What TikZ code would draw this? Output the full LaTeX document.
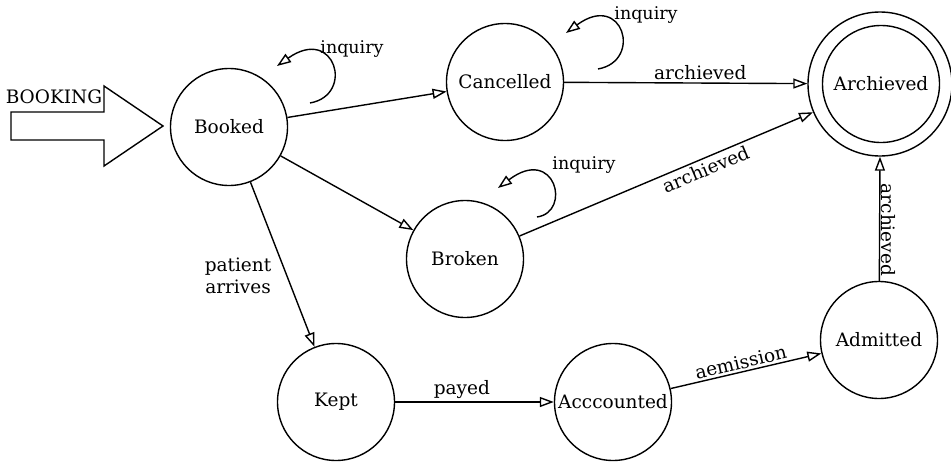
\documentclass[tikz,border=0pt]{standalone}
\usepackage{fontspec}
\setmainfont{DejaVu Serif}
\usetikzlibrary{arrows.meta,calc}
\begin{document}
\begin{tikzpicture}[x=1pt,y=-1pt,
  state/.style={draw, circle, minimum size=117pt, inner sep=0pt, line width=1.4pt, font=\fontsize{18.5}{22}\selectfont},
  outerring/.style={draw, circle, minimum size=144pt, inner sep=0pt, line width=1.4pt},
  trans/.style={line width=1.4pt, -{Triangle[open,length=14pt,width=10pt]}},
  lbl/.style={font=\fontsize{18.5}{22}\selectfont, inner sep=1pt},
  inq/.style={font=\fontsize{17.5}{21}\selectfont, inner sep=1pt},
  ]
\useasboundingbox (0,0) rectangle (951,466);
% entry arrow
\draw[line width=1.4pt] (11,112) -- (104,112) -- (104,86) -- (163,126) -- (104,166) -- (104,140) -- (11,140) -- cycle;
\node[lbl] (bookinglbl) at (54,97) {BOOKING};
% states
\node[state] (booked) at (229,127) {Booked};
\node[state] (cancelled) at (505,82) {Cancelled};
\node[state] (arch) at (881,84) {Archieved};
\node[outerring] (archout) at (880,84) {};
\node[state] (broken) at (465,259) {Broken};
\node[state] (kept) at (336,402) {Kept};
\node[state] (acc) at (613,402) {Acccounted};
\node[state] (admitted) at (879,340) {Admitted};
% transitions
\draw[trans] (booked) -- (cancelled);
\draw[trans] (booked) -- (broken);
\draw[trans] (booked) -- node[lbl, pos=0.57, left=14pt, align=center] (pa) {patient\\arrives} (kept);
\draw[trans] (cancelled) -- node[lbl, pos=0.56, above=2pt] (a1) {archieved} (archout);
\draw[trans] (broken) -- node[lbl, pos=0.62, sloped, below=2pt] (a2) {archieved} (archout);
\draw[trans] (kept) -- node[lbl, pos=0.42, above=2pt] (py) {payed} (acc);
\draw[trans] (acc) -- node[lbl, pos=0.48, sloped, above=1pt] (ae) {aemission} (admitted);
\draw[trans] (admitted) -- node[lbl, pos=0.41, rotate=-90, anchor=south] (a3) {archieved} (archout.south);
% self loops
\draw[trans] ($(booked)+(81,-24)$) .. controls ($(booked)+(126,-32)$) and ($(booked)+(106,-102)$) .. ($(booked)+(48,-61)$);
\node[inq] (inq1) at ($(booked)+(123,-78)$) {inquiry};
\draw[trans] ($(cancelled)+(93,-13)$) .. controls ($(cancelled)+(138,-21)$) and ($(cancelled)+(118,-91)$) .. ($(cancelled)+(61,-49)$);
\node[inq] (inq2) at ($(cancelled)+(141,-67)$) {inquiry};
\draw[trans] ($(broken)+(72,-42)$) .. controls ($(broken)+(107,-47)$) and ($(broken)+(90,-114)$) .. ($(broken)+(33,-71)$);
\node[inq] (inq3) at ($(broken)+(119,-94)$) {inquiry};
\end{tikzpicture}
\end{document}
